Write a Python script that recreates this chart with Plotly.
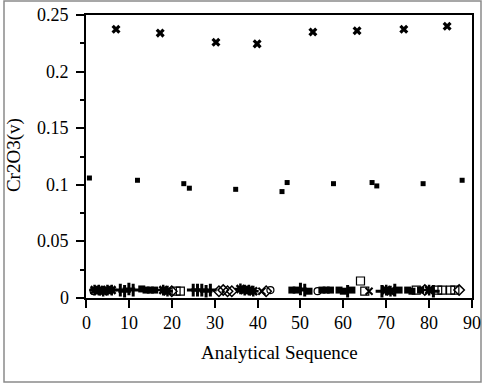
import plotly.graph_objects as go

# High standard (x markers)
std_hi_x = [7.0, 17.3, 30.3, 39.9, 52.9, 63.2, 74.1, 84.2]
std_hi_y = [0.2375, 0.234, 0.226, 0.2245, 0.235, 0.236, 0.2375, 0.240]

# Mid standard (small filled squares)
std_mid_x = [0.8, 12.0, 22.8, 24.1, 34.9, 45.7, 46.9, 57.7, 66.7, 67.8, 78.6, 87.7]
std_mid_y = [0.106, 0.104, 0.101, 0.097, 0.096, 0.094, 0.102, 0.101, 0.102, 0.099, 0.101, 0.104]

# Low-level samples
ast_x = [2, 3, 4, 5, 6, 18, 19, 36, 37, 38, 39, 70, 71, 80]
ast_y = [0.007, 0.007, 0.006, 0.007, 0.007, 0.007, 0.006, 0.008, 0.007, 0.007, 0.006, 0.007, 0.006, 0.007]

plus_x = [8, 9, 10, 11, 25, 26, 27, 28, 29, 50, 51, 61, 69, 72, 81]
plus_y = [0.007, 0.006, 0.008, 0.007, 0.007, 0.007, 0.007, 0.006, 0.007, 0.008, 0.007, 0.006, 0.006, 0.007, 0.006]

sq_x = [13, 14, 15, 16, 48, 49, 52, 55, 56, 57, 59, 60, 62, 73, 75, 76, 78]
sq_y = [0.008, 0.007, 0.007, 0.007, 0.007, 0.007, 0.006, 0.007, 0.007, 0.007, 0.007, 0.006, 0.007, 0.007, 0.007, 0.006, 0.007]

osq_x = [21, 22, 64, 65, 77, 82, 83, 85, 86]
osq_y = [0.006, 0.006, 0.015, 0.006, 0.007, 0.007, 0.007, 0.007, 0.007]

dia_x = [20, 31, 32, 33, 34, 42, 79, 87]
dia_y = [0.006, 0.006, 0.007, 0.006, 0.006, 0.006, 0.007, 0.007]

circ_x = [1.8, 43, 54]
circ_y = [0.006, 0.007, 0.006]

xs_x = [41, 66]
xs_y = [0.006, 0.006]

# Axis tick values / labels
x_ticks = [0, 10, 20, 30, 40, 50, 60, 70, 80, 90]
x_ticklabels = ["0", "10", "20", "30", "40", "50", "60", "70", "80", "90"]
y_ticks = [0, 0.05, 0.1, 0.15, 0.2, 0.25]
y_ticklabels = ["0", "0.05", "0.1", "0.15", "0.2", "0.25"]

fig = go.Figure()
black = "black"
fig.add_trace(go.Scatter(x=std_hi_x, y=std_hi_y, mode="markers",
                         marker=dict(symbol="x", size=8, color=black, line=dict(width=0))))
fig.add_trace(go.Scatter(x=std_mid_x, y=std_mid_y, mode="markers",
                         marker=dict(symbol="square", size=5, color=black, line=dict(width=0))))
fig.add_trace(go.Scatter(x=ast_x, y=ast_y, mode="markers",
                         marker=dict(symbol="asterisk-open", size=9, color=black, line=dict(width=2.5, color=black))))
fig.add_trace(go.Scatter(x=plus_x, y=plus_y, mode="markers",
                         marker=dict(symbol="cross-thin-open", size=9, color=black, line=dict(width=3, color=black))))
fig.add_trace(go.Scatter(x=sq_x, y=sq_y, mode="markers",
                         marker=dict(symbol="square", size=7, color=black, line=dict(width=0))))
fig.add_trace(go.Scatter(x=osq_x, y=osq_y, mode="markers",
                         marker=dict(symbol="square-open", size=8, color=black, line=dict(width=1.2, color=black))))
fig.add_trace(go.Scatter(x=dia_x, y=dia_y, mode="markers",
                         marker=dict(symbol="diamond-open", size=8, color=black, line=dict(width=1.5, color=black))))
fig.add_trace(go.Scatter(x=circ_x, y=circ_y, mode="markers",
                         marker=dict(symbol="circle-open", size=7, color=black, line=dict(width=1.2, color=black))))
fig.add_trace(go.Scatter(x=xs_x, y=xs_y, mode="markers",
                         marker=dict(symbol="x-thin-open", size=7, color=black, line=dict(width=2, color=black))))

serif = "Liberation Serif"
tfont = dict(family=serif, size=18, color="black")

annotations = [
    dict(text="Analytical Sequence", xref="paper", yref="paper", x=0.5, y=-0.191,
         xanchor="center", yanchor="middle", showarrow=False,
         font=dict(family=serif, size=19, color="black")),
    dict(text="Cr2O3(v)", xref="paper", yref="paper", x=0, y=0.505, xshift=-72,
         xanchor="center", yanchor="middle", showarrow=False, textangle=-90,
         font=dict(family=serif, size=19, color="black")),
]
for v, t in zip(x_ticks, x_ticklabels):
    annotations.append(dict(text=t, xref="x", yref="paper", x=v, y=0, yshift=-25,
                            xanchor="center", yanchor="middle", showarrow=False, font=tfont))
for v, t in zip(y_ticks, y_ticklabels):
    annotations.append(dict(text=t, xref="paper", yref="y", x=0, y=v, xshift=-15,
                            xanchor="right", yanchor="middle", showarrow=False, font=tfont))

fig.update_layout(
    template="none",
    width=482, height=385,
    margin=dict(l=86, r=10, t=15, b=87),
    paper_bgcolor="white", plot_bgcolor="white",
    showlegend=False,
    font=dict(family=serif, size=17, color="black"),
    annotations=annotations,
    shapes=[
        dict(type="rect", xref="paper", yref="paper",
             x0=(4 - 86) / 386, x1=(481 - 86) / 386,
             y0=(298 - 382) / 283, y1=(298 - 1) / 283,
             line=dict(color="#8a8a8a", width=1.5), fillcolor="rgba(0,0,0,0)", layer="below"),
    ],
)
fig.update_xaxes(range=[0, 90], tickmode="array", tickvals=x_ticks, showticklabels=False,
                 showgrid=False, zeroline=False,
                 showline=True, linecolor="black", linewidth=1.5, mirror=True,
                 ticks="outside", ticklen=8, tickwidth=1.5, tickcolor="black")
fig.update_yaxes(range=[0, 0.25], tickmode="array", tickvals=y_ticks, showticklabels=False,
                 showgrid=False, zeroline=False,
                 showline=True, linecolor="black", linewidth=1.5, mirror=True,
                 ticks="outside", ticklen=8, tickwidth=1.5, tickcolor="black",
                 minor=dict(dtick=0.025, tick0=0, ticks="outside", ticklen=4, tickwidth=1.5, tickcolor="black"))

fig.write_html("out.html")
